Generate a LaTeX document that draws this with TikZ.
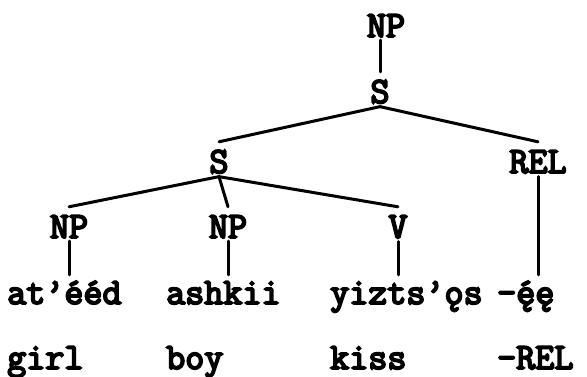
\documentclass[tikz,border=0pt]{standalone}
\usepackage{fontspec}
\newfontfamily\typewr{Latin Modern Mono}[FakeBold=5]
\begin{document}
\begin{tikzpicture}
    [x=1pt,y=-1pt,
     cat/.style={font=\fontsize{37}{37}\typewr,anchor=base,inner sep=3pt,text height=28pt},
     word/.style={font=\fontsize{37}{37}\typewr,anchor=base west,inner sep=0pt,
       text height=27pt,text depth=8pt},
     branch/.style={line width=3pt,line cap=round}]
    \useasboundingbox (0,0) rectangle (587,377);
    % tree
    \node [cat] (NPtop) at (386,37) {NP};
    \node [cat] (Stop) at (380,103) {S};
    \node [cat] (Srel) at (219,173) {S};
    \node [cat] (REL) at (538,173) {REL};
    \node [cat] (NPa) at (69,238) {NP};
    \node [cat] (NPb) at (228,238) {NP};
    \node [cat] (V) at (398,238) {V};
    \draw [branch] (NPtop.south -| Stop.north) -- (Stop.north);
    \draw [branch] (Stop.south) -- (Srel.north);
    \draw [branch] (Stop.south) -- (REL.north);
    \draw [branch] (Srel.south) -- (NPa.north);
    \draw [branch] (Srel.south) -- (NPb.north);
    \draw [branch] (Srel.south) -- (V.north);
    % words and glosses
    \node [word] (wA) at (7,304) {at’ééd};
    \node [word] (wB) at (166,304) {ashkii};
    \node [word] (wC) at (330,304) {yizts’ǫs};
    \node [word] (wD) at (497,304) {-ę́ę};
    \node [word] (gA) at (7,369) {girl};
    \node [word] (gB) at (166,369) {boy};
    \node [word] (gC) at (330,369) {kiss};
    \node [word] (gD) at (497,369) {-REL};
    \draw [branch,shorten >=2pt] (NPa.south) -- (NPa.south |- wA.north);
    \draw [branch,shorten >=2pt] (NPb.south) -- (NPb.south |- wB.north);
    \draw [branch,shorten >=2pt] (V.south) -- (V.south |- wC.north);
    \draw [branch,shorten >=2pt] (REL.south) -- (REL.south |- wD.north);
\end{tikzpicture}
\end{document}
